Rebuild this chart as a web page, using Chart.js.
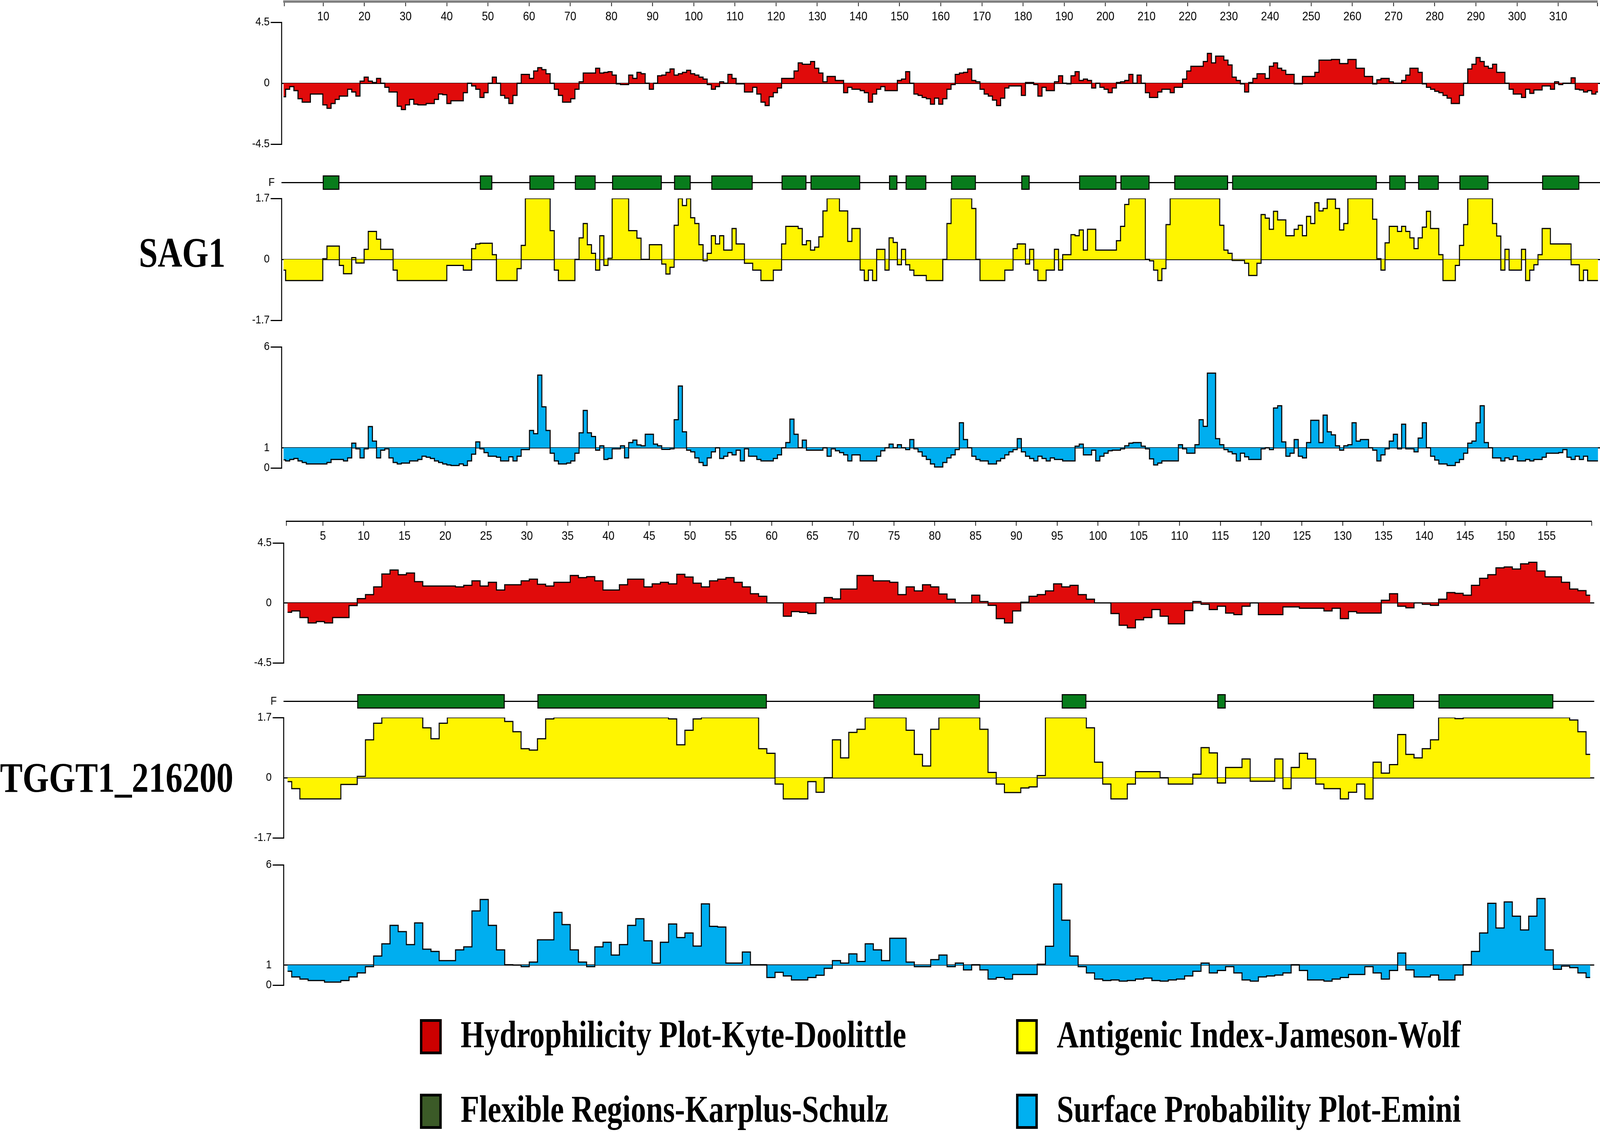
<!DOCTYPE html>
<html>
<head>
<meta charset="utf-8">
<title>SAG1 / TGGT1_216200 protein plots</title>
<script src="https://cdn.jsdelivr.net/npm/chart.js@4.4.1/dist/chart.umd.min.js"></script>
<style>
  html, body { margin: 0; padding: 0; background: #fff; overflow: hidden; }
  body { width: 100vw; height: 100vh; }
  #stage { position: absolute; left: 0; top: 0; width: 4724px; height: 2898px; transform-origin: 0 0; background: #fff; }
  canvas { position: absolute; }
  .name, .legtxt {
    position: absolute; font-family: 'Liberation Serif', 'Times New Roman', serif;
    font-weight: bold; line-height: 1; white-space: nowrap; color: #000;
    transform: scaleY(1.08); transform-origin: left center;
  }
  .name { font-size: 100px; }
  .legtxt { font-size: 90px; }
  .legbox { position: absolute; box-sizing: border-box; border: 7px solid #000; width: 64px; height: 90px; }
</style>
</head>
<body>
<div id="stage">
  <div class="name" style="left:410px;top:597px">SAG1</div>
  <div class="name" style="left:0px;top:1941px">TGGT1_216200</div>
</div>

<script>
// ---- SAG1 (residues 1..319) ----
const sag1Hydro = [
  -1.0, -0.45, -0.25, -0.55, -1.15, -1.4, -1.4, -0.8, -0.8, -0.8,
  -1.6, -1.85, -1.5, -1.2, -0.95, -0.95, -0.45, -0.65, -0.95, 0.15,
  0.45, 0.15, 0.05, 0.35, 0.0, -0.3, -0.65, -0.65, -1.7, -1.95,
  -1.6, -1.2, -1.55, -1.6, -1.6, -1.5, -1.5, -1.2, -0.8, -0.85,
  -1.5, -1.3, -1.3, -1.3, -0.7, 0.0, -0.2, -0.45, -1.05, -0.7,
  0.0, 0.45, 0.0, -0.9, -1.1, -1.5, -0.9, 0.0, 0.65, 0.65,
  0.35, 0.9, 1.15, 1.0, 0.7, 0.0, -0.45, -0.9, -1.4, -1.4,
  -1.15, -0.45, 0.1, 0.75, 0.75, 0.75, 1.1, 0.75, 0.8, 0.85,
  0.6, -0.05, -0.1, -0.1, 0.6, 0.35, 0.8, 0.7, 0.0, -0.45,
  0.0, 0.55, 0.6, 0.8, 1.05, 0.6, 0.7, 0.8, 0.95, 0.7,
  0.6, 0.45, 0.3, -0.1, -0.45, -0.25, 0.1, 0.0, 0.65, 0.35,
  -0.05, -0.05, -0.65, -0.65, -0.3, -0.8, -1.4, -1.65, -1.0, -0.7,
  -0.35, 0.35, 0.35, 0.35, 0.9, 1.5, 1.4, 1.4, 1.6, 1.1,
  0.75, 0.1, 0.5, 0.5, 0.2, 0.2, -0.7, -0.3, -0.45, -0.45,
  -0.55, -0.7, -1.4, -0.8, -0.45, -0.25, -0.55, -0.55, -0.55, 0.2,
  0.3, 0.85, 0.0, -0.8, -0.9, -1.05, -1.15, -1.55, -1.1, -1.55,
  -1.15, -0.45, -0.1, 0.65, 0.75, 0.8, 1.05, 0.2, 0.1, -0.45,
  -0.8, -0.95, -1.25, -1.65, -1.1, -0.35, -0.2, -0.2, -0.2, -0.9,
  0.05, 0.05, -0.1, -0.95, -0.3, -0.55, -0.55, 0.1, 0.55, 0.0,
  -0.05, 0.55, 0.85, 0.2, 0.3, 0.2, -0.35, 0.0, -0.3, -0.45,
  -0.7, -0.35, 0.05, 0.1, 0.2, 0.65, 0.0, 0.6, 0.0, -0.7,
  -1.05, -1.05, -0.65, -0.45, -0.45, -0.7, -0.3, -0.3, 0.3, 0.9,
  1.25, 1.25, 1.25, 1.6, 2.2, 1.5, 2.0, 2.0, 1.7, 1.35,
  0.45, 0.2, -0.05, -0.65, 0.05, 0.35, 0.7, 0.7, 0.35, 1.25,
  1.5, 1.1, 0.95, 0.65, 0.65, -0.05, -0.05, 0.5, 0.5, 0.5,
  0.8, 1.7, 1.7, 1.7, 1.75, 1.75, 1.45, 1.45, 1.75, 1.75,
  1.1, 1.1, 0.5, 0.5, -0.05, 0.25, 0.35, 0.35, 0.1, 0.0,
  0.0, 0.2, 0.6, 1.1, 1.1, 0.8, -0.05, -0.3, -0.45, -0.6,
  -0.7, -0.9, -1.1, -1.5, -1.5, -0.9, 0.0, 1.05, 1.4, 1.9,
  1.6, 1.25, 1.1, 1.4, 0.8, 0.8, 0.0, -0.45, -0.8, -0.8,
  -1.05, -0.45, -0.75, -0.5, -0.5, -0.2, -0.2, -0.45, 0.1, -0.1,
  0.0, 0.0, 0.4, -0.45, -0.5, -0.65, -0.55, -0.8, -0.65
];
const sag1Antigenic = [
  -0.3, -0.59, -0.59, -0.59, -0.59, -0.59, -0.59, -0.59, -0.59, -0.59,
  0.02, 0.37, 0.37, 0.37, -0.17, -0.4, -0.4, 0.05, -0.1, -0.1,
  0.28, 0.78, 0.78, 0.56, 0.28, 0.28, 0.28, -0.3, -0.59, -0.59,
  -0.59, -0.59, -0.59, -0.59, -0.59, -0.59, -0.59, -0.59, -0.59, -0.59,
  -0.17, -0.17, -0.17, -0.17, -0.3, -0.3, 0.3, 0.43, 0.45, 0.45,
  0.45, 0.13, -0.59, -0.59, -0.59, -0.59, -0.59, -0.26, 0.39, 1.7,
  1.7, 1.7, 1.7, 1.7, 1.7, 0.8, -0.3, -0.59, -0.59, -0.59,
  -0.59, 0.0, 0.6, 1.0, 0.41, 0.17, -0.3, 0.66, -0.17, 0.03,
  1.7, 1.7, 1.7, 1.7, 0.8, 0.8, 0.59, 0.0, 0.0, 0.41,
  0.41, 0.41, -0.13, -0.41, -0.22, 0.95, 1.7, 1.5, 1.7, 1.16,
  1.0, 0.41, -0.04, 0.17, 0.66, 0.43, 0.66, 0.26, 0.26, 0.86,
  0.43, 0.43, -0.11, -0.11, -0.3, -0.3, -0.59, -0.59, -0.59, -0.3,
  -0.3, 0.43, 0.92, 0.92, 0.92, 0.86, 0.41, 0.52, 0.26, 0.34,
  0.63, 1.35, 1.7, 1.7, 1.7, 1.35, 1.35, 0.5, 0.86, 0.86,
  -0.3, -0.59, -0.3, -0.59, 0.28, 0.28, -0.3, 0.6, 0.47, -0.15,
  0.28, -0.15, -0.3, -0.45, -0.45, -0.45, -0.59, -0.59, -0.59, -0.59,
  0.0, 1.0, 1.7, 1.7, 1.7, 1.7, 1.7, 1.42, 0.0, -0.59,
  -0.59, -0.59, -0.59, -0.59, -0.59, -0.3, -0.3, 0.3, 0.43, 0.43,
  -0.13, 0.28, -0.3, -0.59, -0.59, -0.3, -0.3, 0.28, -0.3, 0.13,
  0.13, 0.69, 0.66, 0.82, 0.26, 0.84, 0.84, 0.26, 0.26, 0.26,
  0.26, 0.26, 0.52, 0.92, 1.53, 1.7, 1.7, 1.7, 1.7, 0.0,
  -0.04, -0.3, -0.59, -0.26, 0.97, 1.7, 1.7, 1.7, 1.7, 1.7,
  1.7, 1.7, 1.7, 1.7, 1.7, 1.7, 1.7, 0.95, 0.26, 0.17,
  -0.03, -0.03, -0.03, -0.11, -0.45, -0.45, -0.11, 1.25, 1.15, 0.84,
  1.34, 1.1, 1.1, 0.66, 0.66, 0.84, 0.95, 0.66, 1.2, 1.0,
  1.58, 1.35, 1.42, 1.68, 1.68, 1.42, 0.82, 1.0, 1.7, 1.7,
  1.7, 1.7, 1.7, 1.7, 1.12, 0.02, -0.3, 0.46, 0.92, 0.92,
  0.78, 0.92, 0.78, 0.6, 0.3, 0.6, 0.9, 1.34, 0.86, 0.86,
  0.13, -0.59, -0.59, -0.59, -0.17, 0.39, 0.97, 1.7, 1.7, 1.7,
  1.7, 1.7, 1.7, 1.0, 0.65, -0.3, 0.28, -0.3, -0.3, -0.3,
  0.28, -0.59, -0.3, -0.15, 0.13, 0.86, 0.86, 0.43, 0.43, 0.43,
  0.43, 0.43, -0.15, -0.15, -0.59, -0.3, -0.59, -0.59, -0.59
];
const sag1Surface = [
  0.4, 0.35, 0.42, 0.47, 0.35, 0.27, 0.2, 0.2, 0.2, 0.2,
  0.2, 0.27, 0.42, 0.42, 0.42, 0.35, 0.5, 1.23, 0.95, 0.5,
  0.95, 2.05, 1.33, 0.5, 0.88, 0.95, 0.5, 0.27, 0.2, 0.24,
  0.24, 0.35, 0.35, 0.42, 0.58, 0.53, 0.47, 0.35, 0.27, 0.2,
  0.15, 0.12, 0.12, 0.2, 0.12, 0.35, 0.68, 1.29, 0.95, 0.76,
  0.58, 0.58, 0.53, 0.35, 0.35, 0.55, 0.35, 0.58, 0.91, 0.91,
  1.86, 1.7, 4.6, 3.03, 1.86, 0.73, 0.35, 0.2, 0.2, 0.24,
  0.35, 0.73, 1.74, 2.85, 1.74, 1.56, 0.88, 1.1, 0.42, 0.47,
  0.95, 0.95, 1.1, 0.5, 1.26, 1.38, 1.14, 1.1, 1.67, 1.67,
  1.18, 1.1, 0.92, 0.92, 0.95, 2.39, 4.06, 1.79, 0.88, 0.8,
  0.5, 0.27, 0.12, 0.5, 0.8, 1.0, 0.47, 0.58, 0.76, 0.65,
  0.88, 0.35, 0.95, 0.58, 0.58, 0.42, 0.35, 0.35, 0.35, 0.47,
  0.65, 1.0, 1.26, 2.42, 1.67, 1.0, 1.38, 0.88, 0.88, 0.88,
  0.88, 1.0, 0.58, 0.95, 0.85, 0.76, 0.65, 0.35, 0.65, 0.65,
  0.35, 0.35, 0.35, 0.35, 0.58, 0.85, 1.0, 1.18, 1.0, 1.15,
  1.0, 0.91, 1.41, 0.95, 0.8, 0.58, 0.42, 0.2, 0.05, 0.05,
  0.27, 0.5, 0.65, 0.91, 2.24, 1.41, 1.0, 0.58, 0.42, 0.35,
  0.35, 0.2, 0.2, 0.35, 0.47, 0.65, 0.8, 0.91, 1.45, 0.8,
  0.58, 0.47, 0.35, 0.58, 0.47, 0.35, 0.5, 0.42, 0.42, 0.35,
  0.35, 0.35, 1.08, 1.18, 0.65, 0.65, 0.88, 0.35, 0.58, 0.73,
  0.85, 0.88, 0.88, 0.95, 1.1, 1.23, 1.26, 1.26, 1.08, 0.95,
  0.45, 0.15, 0.24, 0.35, 0.35, 0.35, 0.35, 1.15, 0.95, 0.73,
  0.73, 1.15, 2.39, 2.06, 4.7, 4.7, 1.45, 1.15, 0.91, 0.8,
  0.7, 0.35, 0.73, 0.55, 0.42, 0.42, 0.42, 0.95, 1.0, 0.91,
  2.97, 3.08, 1.29, 0.58, 0.73, 1.41, 0.58, 0.5, 1.26, 2.36,
  2.36, 1.26, 2.62, 1.79, 1.64, 1.1, 0.88, 1.1, 1.15, 2.24,
  1.33, 1.41, 1.41, 1.0, 0.88, 0.35, 0.65, 0.95, 1.33, 1.67,
  0.95, 2.17, 0.95, 0.95, 0.8, 1.48, 2.24, 1.0, 0.58, 0.39,
  0.2, 0.2, 0.12, 0.12, 0.27, 0.42, 0.73, 1.23, 1.33, 2.24,
  3.08, 1.26, 1.0, 0.5, 0.5, 0.35, 0.5, 0.42, 0.58, 0.35,
  0.35, 0.42, 0.35, 0.42, 0.42, 0.53, 0.73, 0.73, 0.73, 0.76,
  0.91, 0.53, 0.42, 0.58, 0.42, 0.58, 0.35, 0.35, 0.35
];
const sag1FlexStart = [11, 49, 61, 72, 81, 96, 105, 122, 129, 148, 152, 163, 180, 194, 204, 217, 231, 269, 276, 286, 306];
const sag1FlexEnd   = [14, 51, 66, 76, 92, 99, 114, 127, 140, 149, 156, 168, 181, 202, 210, 229, 265, 272, 280, 292, 314];
const sag1RulerTicks = [10, 20, 30, 40, 50, 60, 70, 80, 90, 100, 110, 120, 130, 140, 150, 160,
  170, 180, 190, 200, 210, 220, 230, 240, 250, 260, 270, 280, 290, 300, 310];

// ---- TGGT1_216200 (residues 1..160) ----
const tgHydro = [
  -0.7, -0.6, -1.1, -1.5, -1.4, -1.5, -1.1, -1.1, -0.2, 0.32,
  0.62, 1.2, 2.17, 2.47, 2.12, 2.24, 1.6, 1.27, 1.27, 1.27,
  1.27, 1.2, 1.32, 1.66, 1.27, 1.55, 0.97, 1.36, 1.36, 1.66,
  1.78, 1.4, 1.27, 1.55, 1.55, 2.06, 1.9, 1.97, 1.66, 0.97,
  0.97, 1.36, 1.78, 1.78, 1.2, 1.43, 1.55, 1.43, 2.15, 1.94,
  1.48, 1.2, 1.66, 1.78, 1.9, 1.55, 1.2, 0.69, 0.5, 0.0,
  0.0, -1.0, -0.65, -0.7, -0.8, 0.0, 0.4, 0.3, 1.04, 1.04,
  2.06, 2.06, 1.66, 1.66, 1.55, 0.62, 1.2, 0.9, 1.36, 1.2,
  0.67, 0.28, 0.0, 0.0, 0.58, 0.1, -0.18, -1.18, -1.5, -0.6,
  0.05, 0.5, 0.62, 0.9, 1.43, 1.2, 1.32, 0.62, 0.28, 0.0,
  0.0, -0.8, -1.68, -1.87, -1.27, -1.1, -0.5, -1.0, -1.57, -1.57,
  -0.58, 0.1, -0.1, -0.5, -0.25, -0.76, -0.88, -0.25, 0.0, -0.88,
  -0.88, -0.88, -0.3, -0.3, -0.4, -0.4, -0.4, -0.6, -0.4, -1.18,
  -0.65, -0.76, -0.76, -0.76, 0.2, 0.69, -0.25, -0.37, 0.0, -0.1,
  -0.18, 0.28, 0.78, 0.72, 0.58, 1.32, 1.85, 2.12, 2.63, 2.7,
  2.54, 2.93, 3.05, 2.4, 1.96, 1.96, 1.55, 1.04, 0.92, 0.58
];
const tgAntigenic = [
  -0.11, -0.31, -0.6, -0.6, -0.6, -0.6, -0.6, -0.19, -0.19, 0.04,
  1.07, 1.54, 1.7, 1.7, 1.7, 1.7, 1.7, 1.41, 1.1, 1.54,
  1.7, 1.7, 1.7, 1.7, 1.7, 1.7, 1.7, 1.59, 1.3, 0.82,
  0.78, 1.1, 1.66, 1.7, 1.7, 1.7, 1.7, 1.7, 1.7, 1.7,
  1.7, 1.7, 1.7, 1.7, 1.7, 1.7, 1.7, 1.66, 0.93, 1.34,
  1.66, 1.7, 1.7, 1.7, 1.7, 1.7, 1.7, 1.7, 0.82, 0.69,
  -0.18, -0.6, -0.6, -0.6, -0.11, -0.41, 0.0, 1.07, 0.56, 1.28,
  1.37, 1.7, 1.7, 1.7, 1.7, 1.7, 1.34, 0.66, 0.33, 1.37,
  1.7, 1.7, 1.7, 1.7, 1.7, 1.37, 0.15, -0.18, -0.42, -0.42,
  -0.29, -0.26, 0.06, 1.7, 1.7, 1.7, 1.7, 1.7, 1.41, 0.44,
  -0.18, -0.6, -0.6, -0.18, 0.17, 0.17, 0.17, 0.0, -0.18, -0.18,
  -0.18, 0.1, 0.85, 0.7, -0.15, 0.29, 0.29, 0.53, -0.1, -0.1,
  -0.1, 0.53, -0.31, 0.29, 0.69, 0.53, -0.18, -0.31, -0.31, -0.6,
  -0.41, -0.18, -0.6, 0.44, 0.13, 0.37, 1.22, 0.66, 0.56, 0.82,
  1.07, 1.7, 1.7, 1.67, 1.7, 1.7, 1.7, 1.7, 1.7, 1.7,
  1.7, 1.7, 1.7, 1.7, 1.7, 1.7, 1.7, 1.63, 1.3, 0.66
];
const tgSurface = [
  0.69, 0.41, 0.3, 0.23, 0.23, 0.15, 0.15, 0.23, 0.41, 0.61,
  0.92, 1.45, 2.06, 2.98, 2.67, 2.02, 3.1, 1.79, 1.68, 1.22,
  1.22, 1.76, 1.91, 3.7, 4.27, 2.98, 1.76, 1.02, 1.0, 0.92,
  1.15, 2.26, 2.26, 3.63, 3.02, 1.76, 1.15, 0.92, 1.91, 2.14,
  1.5, 2.02, 2.98, 3.31, 2.21, 1.1, 2.14, 3.05, 2.37, 2.6,
  1.95, 4.05, 2.93, 2.9, 1.1, 1.1, 1.65, 1.02, 1.02, 0.38,
  0.64, 0.46, 0.26, 0.26, 0.38, 0.49, 0.84, 1.22, 1.1, 1.56,
  1.18, 2.06, 1.76, 1.22, 2.34, 2.34, 1.15, 0.92, 0.92, 1.27,
  1.5, 0.92, 1.1, 0.76, 1.02, 0.76, 0.3, 0.38, 0.3, 0.53,
  0.53, 0.53, 1.04, 1.94, 5.04, 3.24, 1.45, 0.92, 0.61, 0.3,
  0.23, 0.26, 0.2, 0.23, 0.3, 0.35, 0.23, 0.2, 0.26, 0.3,
  0.46, 0.69, 1.1, 0.61, 0.73, 0.92, 0.61, 0.26, 0.2, 0.41,
  0.46, 0.5, 0.61, 1.02, 0.73, 0.26, 0.26, 0.2, 0.3, 0.38,
  0.53, 0.53, 0.92, 0.61, 0.3, 0.73, 1.6, 0.76, 0.41, 0.41,
  0.5, 0.26, 0.26, 0.5, 1.02, 1.68, 2.6, 4.08, 2.85, 4.15,
  3.44, 2.75, 3.44, 4.32, 1.76, 0.79, 0.95, 0.87, 0.61, 0.38
];
const tgFlexStart = [10, 32, 73, 96, 115, 134, 142];
const tgFlexEnd   = [27, 59, 85, 98, 115, 138, 155];
const tgRulerTicks = [5, 10, 15, 20, 25, 30, 35, 40, 45, 50, 55, 60, 65, 70, 75, 80,
  85, 90, 95, 100, 105, 110, 115, 120, 125, 130, 135, 140, 145, 150, 155];

// axis tick labels
const hydroTicks = [-4.5, 0, 4.5];
const antigenicTicks = [-1.7, 0, 1.7];
const surfaceTicks = [0, 1, 6];

const legendLabels = ['Hydrophilicity Plot-Kyte-Doolittle', 'Antigenic Index-Jameson-Wolf',
  'Flexible Regions-Karplus-Schulz', 'Surface Probability Plot-Emini'];
const legendColors = ['#cc0000', '#ffff00', '#3b5a27', '#00b0f0'];

// colours
const HYDRO_COLOR = '#e00b0b';
const ANTI_COLOR = '#fff500';
const SURF_COLOR = '#00aeef';
const FLEX_COLOR = '#087c1c';
const SMALL_FONT = "'Liberation Sans Narrow', 'Liberation Sans', Arial, sans-serif";

// everything is laid out on a 4724 x 2898 stage that is stretched onto the viewport
const STAGE_W = 4724, STAGE_H = 2898;
const stage = document.getElementById('stage');
const sx = window.innerWidth / STAGE_W;
const sy = window.innerHeight / STAGE_H;
stage.style.transform = 'scale(' + sx + ',' + sy + ')';

// stage geometry of each block
const blocks = [
  { left: 831, right: 4724, min: 0.5, max: 319.5, rulerY: 4, rulerColor: '#808080', rulerWidth: 6,
    hydro: [57, 369], flex: [449, 486], anti: [508, 820], surf: [888, 1198],
    ticks: sag1RulerTicks, h: sag1Hydro, a: sag1Antigenic, s: sag1Surface, fs: sag1FlexStart, fe: sag1FlexEnd },
  { left: 837, right: 4707, min: 0.5, max: 160.5, rulerY: 1334, rulerColor: '#000', rulerWidth: 3,
    hydro: [1390, 1697], flex: [1777, 1814], anti: [1837, 2145], surf: [2214, 2522],
    ticks: tgRulerTicks, h: tgHydro, a: tgAntigenic, s: tgSurface, fs: tgFlexStart, fe: tgFlexEnd }
];

const AXIS_W = 150;

function makeCanvas(left, top, width, height) {
  const c = document.createElement('canvas');
  c.width = width;
  c.height = height;
  c.style.left = left + 'px';
  c.style.top = top + 'px';
  c.style.width = width + 'px';
  c.style.height = height + 'px';
  stage.appendChild(c);
  return c;
}

const baseOptions = {
  responsive: false,
  animation: false,
  devicePixelRatio: 1,
  events: [],
  plugins: { legend: { display: false }, tooltip: { enabled: false } }
};

function drawRuler(b) {
  const pad = 10, axisH = 64;
  const c = makeCanvas(b.left, b.rulerY - pad, b.right - b.left, pad + axisH);
  new Chart(c, {
    type: 'line',
    data: { datasets: [] },
    options: Object.assign({}, baseOptions, {
      layout: { padding: 0 },
      scales: {
        x: {
          type: 'linear', min: b.min, max: b.max, position: 'bottom',
          afterBuildTicks: s => { s.ticks = [b.min].concat(b.ticks, [b.max]).map(v => ({ value: v })); },
          afterFit: s => { s.height = axisH; },
          border: { display: true, color: b.rulerColor, width: b.rulerWidth },
          grid: { drawOnChartArea: false, drawTicks: true, tickLength: 12, tickColor: '#000', tickWidth: 2 },
          ticks: {
            autoSkip: false, maxRotation: 0, padding: 8, color: '#000',
            font: { family: SMALL_FONT, size: 32 },
            callback: v => b.ticks.includes(v) ? String(v) : ''
          }
        },
        y: { display: false, min: 0, max: 1 }
      }
    })
  });
}

function drawValuePanel(b, range, values, cfg) {
  const P = 30;
  const top = range[0], height = range[1] - range[0];
  const c = makeCanvas(b.left - AXIS_W, top - P, b.right - b.left + AXIS_W, height + 2 * P);
  const base = cfg.base;
  new Chart(c, {
    type: 'line',
    data: {
      datasets: [{
        data: values.map((v, i) => ({ x: i + 1, y: v })),
        stepped: 'middle',
        borderColor: '#000',
        borderWidth: 3,
        pointRadius: 0,
        backgroundColor: cfg.color,
        fill: { value: base }
      }]
    },
    options: Object.assign({}, baseOptions, {
      layout: { padding: { top: P, bottom: P, left: 0, right: 0 } },
      scales: {
        x: { type: 'linear', min: b.min, max: b.max, display: false },
        y: {
          type: 'linear', min: cfg.ticks[0], max: cfg.ticks[cfg.ticks.length - 1], z: 1,
          afterBuildTicks: s => { s.ticks = cfg.ticks.map(v => ({ value: v })); },
          afterFit: s => { s.width = AXIS_W; },
          border: { display: true, color: '#000', width: 3 },
          grid: {
            drawOnChartArea: true, drawTicks: true, tickLength: 32, lineWidth: 3, tickWidth: 3,
            color: ctx => (ctx.tick && ctx.tick.value === base) ? '#000' : 'rgba(0,0,0,0)',
            tickColor: ctx => (ctx.tick && ctx.tick.value !== base) ? '#000' : 'rgba(0,0,0,0)'
          },
          ticks: {
            autoSkip: false, padding: 3, color: '#000',
            font: { family: SMALL_FONT, size: 30 },
            callback: v => String(v)
          }
        }
      }
    })
  });
}

// flexible regions: one floating bar per region on the single 'F' row
function drawFlexPanel(b) {
  const P = 60;
  const top = b.flex[0], height = b.flex[1] - b.flex[0];
  const c = makeCanvas(b.left - AXIS_W, top - P, b.right - b.left + AXIS_W, height + 2 * P);
  new Chart(c, {
    type: 'bar',
    data: {
      labels: ['F'],
      datasets: b.fs.map((s, i) => ({
        data: [[s - 0.5, b.fe[i] + 0.5]],
        grouped: false,
        backgroundColor: FLEX_COLOR,
        borderColor: '#000',
        borderWidth: 3,
        borderSkipped: false,
        barPercentage: 1,
        categoryPercentage: 1
      }))
    },
    options: Object.assign({}, baseOptions, {
      indexAxis: 'y',
      layout: { padding: { top: P, bottom: P, left: 0, right: 0 } },
      scales: {
        x: { type: 'linear', min: b.min, max: b.max, display: false },
        y: {
          type: 'category',
          afterFit: s => { s.width = AXIS_W; },
          border: { display: false },
          grid: { offset: false, drawTicks: false, drawOnChartArea: true, color: '#000', lineWidth: 3 },
          ticks: { padding: 20, color: '#000', font: { family: SMALL_FONT, size: 30 } }
        }
      }
    })
  });
}

blocks.forEach(b => {
  drawRuler(b);
  drawValuePanel(b, b.hydro, b.h, { base: 0, ticks: hydroTicks, color: HYDRO_COLOR });
  drawFlexPanel(b);
  drawValuePanel(b, b.anti, b.a, { base: 0, ticks: antigenicTicks, color: ANTI_COLOR });
  drawValuePanel(b, b.surf, b.s, { base: 1, ticks: surfaceTicks, color: SURF_COLOR });
});

// legend (2 x 2 grid)
const legCols = [1240, 3000];
const legRows = [2609, 2800];
legendLabels.forEach((label, i) => {
  const col = i % 2, row = Math.floor(i / 2);
  const box = document.createElement('div');
  box.className = 'legbox';
  box.style.left = legCols[col] + 'px';
  box.style.top = legRows[row] + 'px';
  box.style.background = legendColors[i];
  stage.appendChild(box);
  const t = document.createElement('div');
  t.className = 'legtxt';
  t.textContent = label;
  t.style.left = (legCols[col] + 120) + 'px';
  t.style.top = (legRows[row] - 5) + 'px';
  stage.appendChild(t);
});
</script>
</body>
</html>
